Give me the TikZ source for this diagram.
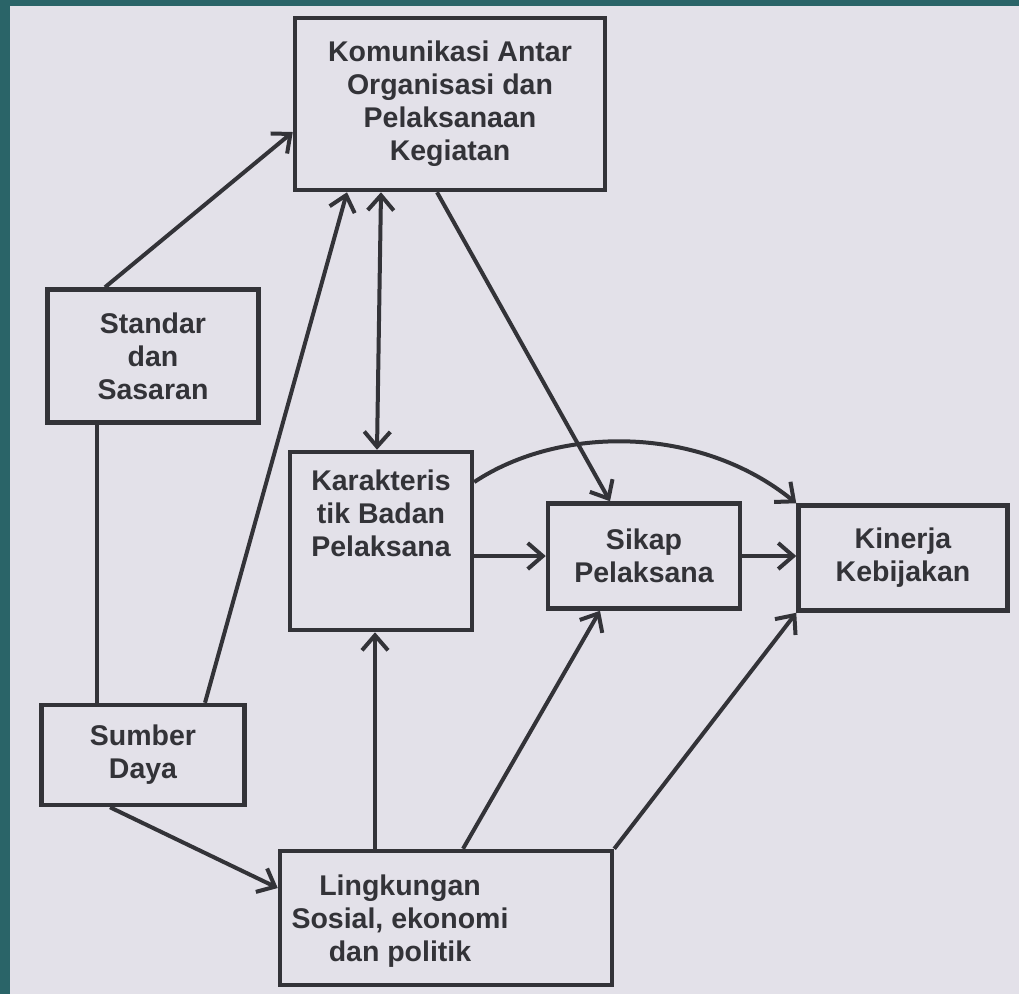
\documentclass[tikz,border=0pt]{standalone}
\usepackage{fontspec}
\setmainfont{Liberation Sans}
\usetikzlibrary{arrows.meta,positioning}
\definecolor{frame}{HTML}{2A6468}
\definecolor{paper}{HTML}{E3E1E9}
\definecolor{ink}{HTML}{333338}
\tikzset{
    box/.style={draw=ink, line width=4.5pt, fill=paper, inner sep=0pt},
    txt/.style={text=ink, align=center, inner sep=0pt, font=\bfseries\fontsize{28.5}{33}\selectfont},
    link/.style={draw=ink, line width=4pt},
    arr/.style={link, -{Straight Barb[length=15pt,width=26pt]}},
    arrs/.style={link, {Straight Barb[length=15pt,width=26pt]}-{Straight Barb[length=15pt,width=26pt]}}
}
\begin{document}
\begin{tikzpicture}[x=1pt,y=-1pt]
        \useasboundingbox (0,0) rectangle (1019,994);
        %% page
        \fill[frame] (0,0) rectangle (1019,994);
        \fill[paper] (10,6) rectangle (1019,994);
        %% boxes
        \node[box, txt, minimum width=310pt, minimum height=172pt] (komunikasi) at (450,104) {Komunikasi Antar\\Organisasi dan\\Pelaksanaan\\Kegiatan};
        \node[box, txt, minimum width=211pt, minimum height=133pt] (standar) at (153,356) {Standar\\dan\\Sasaran};
        \node[box, txt, minimum width=203pt, minimum height=100pt] (sumber) at (143,755) {Sumber\\Daya};
        \node[box, minimum width=182pt, minimum height=178pt] (karakter) at (381,541) {};
        \node[txt, below=20pt of karakter.north] (karaktertext) {Karakteris\\tik Badan\\Pelaksana};
        \node[box, txt, minimum width=192pt, minimum height=105pt] (sikap) at (644,556) {Sikap\\Pelaksana};
        \node[box, txt, minimum width=209pt, minimum height=105pt] (kinerja) at (903,558) {Kinerja\\Kebijakan};
        \node[box, minimum width=332pt, minimum height=134pt] (lingkungan) at (446,918) {};
        \node[txt] (lingkungantext) at (400,921) {Lingkungan\\Sosial, ekonomi\\dan politik};
        %% left column
        \draw[arr] ([xshift=-48pt]standar.north) -- ([yshift=-28pt]komunikasi.west);
        \draw[link] ([xshift=-56pt]standar.south) -- ([xshift=-56pt]standar.south |- sumber.north);
        \draw[arr] ([xshift=62pt]sumber.north) -- ([xshift=-103pt]komunikasi.south);
        \draw[arr] ([xshift=-33pt]sumber.south) -- ([yshift=30pt]lingkungan.west);
        %% middle
        \draw[arrs] ([xshift=-69pt]komunikasi.south) -- ([xshift=-4pt]karakter.north);
        \draw[arr] ([xshift=-13pt]komunikasi.south) -- ([xshift=-34pt]sikap.north);
        \draw[arr] (karakter.east |- sikap.west) -- (sikap.west);
        \draw[arr] (sikap.east) -- (sikap.east -| kinerja.west);
        \draw[arr] ([yshift=59pt]karakter.east) .. controls (560,425) and (700,425) .. (kinerja.north west);
        %% from below
        \draw[arr] ([xshift=-6pt]karakter.south |- lingkungan.north) -- ([xshift=-6pt]karakter.south);
        \draw[arr] ([xshift=17pt]lingkungan.north) -- ([xshift=-44pt]sikap.south);
        \draw[arr] (lingkungan.north east) -- (kinerja.south west);
\end{tikzpicture}
\end{document}
